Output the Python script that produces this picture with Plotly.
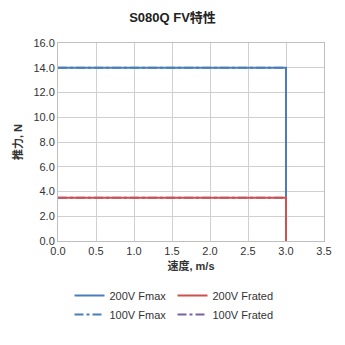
import plotly.graph_objects as go

speed = [0.0, 3.0, 3.0]
fmax_200 = [14.0, 14.0, 0.0]
frated_200 = [3.5, 3.5, 0.0]
fmax_100 = [14.0, 14.0, 0.0]
frated_100 = [3.5, 3.5, 0.0]

# (name, values, color, dash, legend rank); 100V drawn first so 200V lies on top
series = [
    ("100V Fmax", fmax_100, "#4A7EBB", "dashdot", 3),
    ("100V Frated", frated_100, "#7D60A0", "dashdot", 4),
    ("200V Fmax", fmax_200, "#4A7EBB", "solid", 1),
    ("200V Frated", frated_200, "#D0504D", "solid", 2),
]

fig = go.Figure()
for name, ys, color, dash, rank in series:
    fig.add_trace(go.Scatter(x=speed, y=ys, mode="lines", name=name, legendrank=rank,
                             line=dict(color=color, width=2, dash=dash)))

font = "Liberation Sans, Arial, Noto Sans CJK SC, sans-serif"
fig.update_layout(
    width=345, height=345,
    margin=dict(l=58, r=21, t=43, b=104, autoexpand=False),
    paper_bgcolor="white", plot_bgcolor="white",
    font=dict(family=font, size=11, color="#333333"),
    title=dict(text="<b>S080Q FV特性</b>", x=0.5, xanchor="center",
               y=1 - 17/345, yanchor="middle", font=dict(size=13, color="#222222")),
    xaxis=dict(range=[0, 3.5], dtick=0.5, tickformat=".1f", showgrid=True,
               gridcolor="#D0D0D0", showline=True, linecolor="#BFBFBF", mirror=True,
               zeroline=False, ticks="",
               title=dict(text="<b>速度, m/s</b>", font=dict(size=11), standoff=6)),
    yaxis=dict(range=[0, 16], dtick=2, tickformat=".1f", showgrid=True,
               gridcolor="#D0D0D0", showline=True, linecolor="#BFBFBF", mirror=True,
               zeroline=False, ticks="",
               title=dict(text="<b>推力, N</b>", font=dict(size=11), standoff=8)),
    legend=dict(orientation="h", xref="container", x=0.5, xanchor="center",
                yref="container", y=1 - 281/345, yanchor="top",
                entrywidth=58, entrywidthmode="pixels", font=dict(size=11),
                itemwidth=30, tracegroupgap=0),
    showlegend=True,
)

fig.write_html("out.html")
